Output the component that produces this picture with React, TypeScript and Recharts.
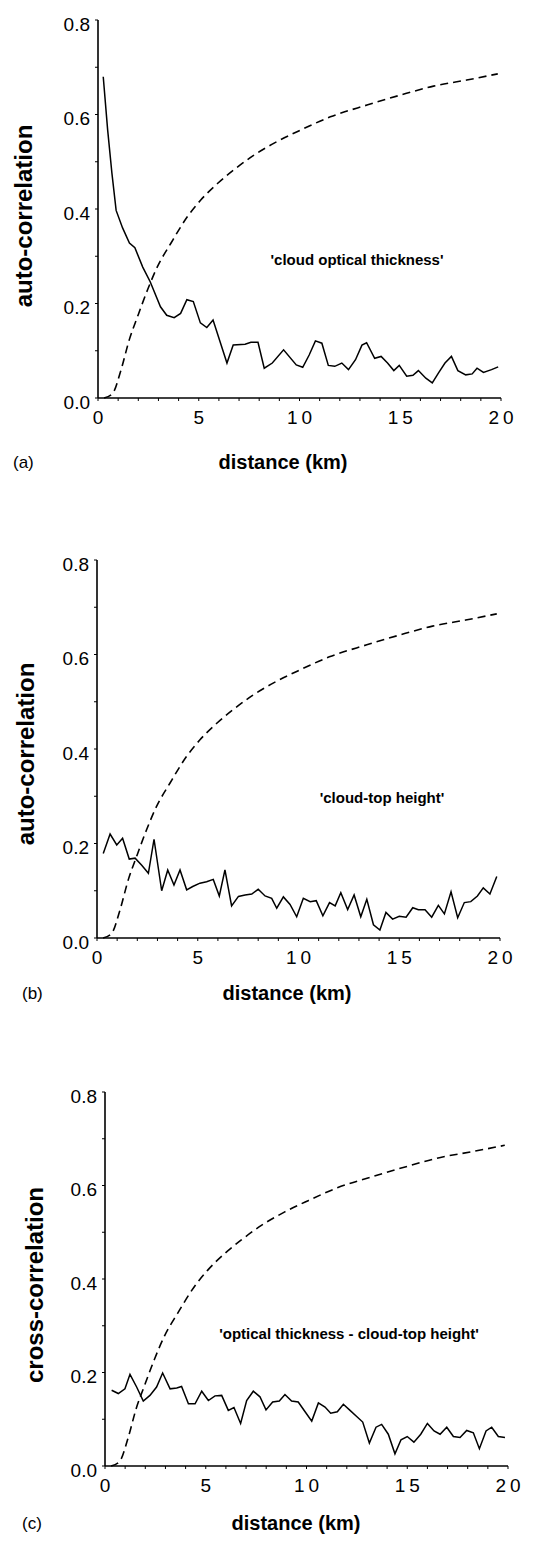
import { LineChart, Line, XAxis, YAxis } from 'recharts';

const FONT = '"Liberation Sans", Arial, Helvetica, sans-serif';

// axis ticks: km every 1 (labels every 5), correlation every 0.1 (labels every 0.2)
const xTicks = [0, 1, 2, 3, 4, 5, 6, 7, 8, 9, 10, 11, 12, 13, 14, 15, 16, 17, 18, 19, 20];
const yTicks = [0, 0.1, 0.2, 0.3, 0.4, 0.5, 0.6, 0.7, 0.8];

// dashed curve (same in the three panels) [distance km, value]
const dashedCurve = [
  [0.3, 0], [0.73, 0.01], [1.14, 0.059], [1.55, 0.123], [1.96, 0.172], [2.46, 0.229],
  [2.95, 0.278], [3.61, 0.327], [4.44, 0.384], [5.1, 0.419], [5.93, 0.454], [6.75, 0.483],
  [7.74, 0.514], [8.9, 0.543], [10.05, 0.567], [11.53, 0.595], [13.35, 0.62], [15.0, 0.641],
  [16.65, 0.66], [18.3, 0.673], [19.84, 0.686],
];

// (a) cloud optical thickness
const opticalAuto = [
  [0.26, 0.68], [0.48, 0.567], [0.69, 0.476], [0.9, 0.397], [1.22, 0.36], [1.56, 0.328],
  [1.83, 0.318], [2.22, 0.277], [2.59, 0.246], [3.1, 0.193], [3.41, 0.175], [3.78, 0.17],
  [4.1, 0.179], [4.41, 0.208], [4.73, 0.204], [5.08, 0.159], [5.4, 0.149], [5.71, 0.165],
  [6.4, 0.074], [6.71, 0.112], [7.3, 0.114], [7.59, 0.118], [7.94, 0.118], [8.25, 0.063],
  [8.65, 0.074], [9.21, 0.102], [9.84, 0.07], [10.16, 0.065], [10.48, 0.091], [10.79, 0.121],
  [11.11, 0.116], [11.43, 0.069], [11.75, 0.067], [12.1, 0.074], [12.43, 0.06], [12.78, 0.081],
  [13.1, 0.112], [13.33, 0.117], [13.73, 0.084], [14.05, 0.088], [14.37, 0.074], [14.68, 0.058],
  [14.95, 0.069], [15.32, 0.046], [15.63, 0.048], [15.9, 0.058], [16.27, 0.042], [16.59, 0.032],
  [16.9, 0.053], [17.22, 0.074], [17.54, 0.088], [17.86, 0.058], [18.25, 0.049], [18.57, 0.051],
  [18.81, 0.063], [19.13, 0.054], [19.53, 0.06], [19.86, 0.066],
];

// (b) cloud-top height
const topHeightAuto = [
  [0.31, 0.179], [0.65, 0.22], [0.98, 0.197], [1.27, 0.211], [1.6, 0.167], [1.89, 0.169],
  [2.22, 0.154], [2.55, 0.137], [2.83, 0.209], [3.21, 0.1], [3.51, 0.144], [3.82, 0.112],
  [4.12, 0.144], [4.45, 0.102], [4.75, 0.109], [5.11, 0.116], [5.44, 0.119], [5.77, 0.124],
  [6.07, 0.089], [6.35, 0.144], [6.68, 0.068], [7.02, 0.088], [7.35, 0.091], [7.68, 0.093],
  [8.0, 0.103], [8.34, 0.089], [8.67, 0.084], [8.92, 0.063], [9.25, 0.087], [9.58, 0.071],
  [9.91, 0.045], [10.24, 0.084], [10.58, 0.077], [10.88, 0.079], [11.21, 0.047], [11.54, 0.075],
  [11.82, 0.068], [12.1, 0.096], [12.44, 0.06], [12.76, 0.091], [13.09, 0.045], [13.39, 0.082],
  [13.72, 0.028], [14.04, 0.017], [14.34, 0.054], [14.67, 0.04], [15.0, 0.046], [15.34, 0.044],
  [15.67, 0.064], [15.95, 0.06], [16.28, 0.06], [16.61, 0.044], [16.94, 0.069], [17.24, 0.051],
  [17.57, 0.098], [17.9, 0.043], [18.23, 0.075], [18.55, 0.077], [18.88, 0.089], [19.17, 0.106],
  [19.5, 0.093], [19.84, 0.13],
];

// (c) optical thickness - cloud-top height
const crossCorr = [
  [0.33, 0.162], [0.66, 0.155], [0.99, 0.165], [1.24, 0.196], [1.57, 0.169], [1.9, 0.139],
  [2.23, 0.151], [2.56, 0.169], [2.86, 0.199], [3.23, 0.165], [3.56, 0.167], [3.8, 0.17],
  [4.14, 0.133], [4.47, 0.133], [4.8, 0.16], [5.13, 0.14], [5.46, 0.15], [5.79, 0.151],
  [6.12, 0.119], [6.4, 0.125], [6.73, 0.091], [7.03, 0.14], [7.36, 0.16], [7.69, 0.148],
  [7.99, 0.12], [8.32, 0.137], [8.65, 0.139], [8.93, 0.153], [9.26, 0.139], [9.59, 0.137],
  [9.93, 0.116], [10.26, 0.096], [10.59, 0.135], [10.92, 0.126], [11.2, 0.113], [11.53, 0.116],
  [11.83, 0.132], [12.16, 0.119], [12.49, 0.106], [12.79, 0.094], [13.12, 0.049], [13.45, 0.083],
  [13.73, 0.089], [14.06, 0.068], [14.39, 0.026], [14.69, 0.056], [15.0, 0.063], [15.33, 0.051],
  [15.67, 0.068], [16.0, 0.091], [16.33, 0.075], [16.63, 0.068], [16.96, 0.083], [17.29, 0.063],
  [17.62, 0.061], [17.95, 0.076], [18.28, 0.071], [18.58, 0.037], [18.91, 0.075], [19.19, 0.083],
  [19.52, 0.063], [19.85, 0.061],
];

const toPoints = (pairs: number[][]) => pairs.map(([x, y]) => ({ x, y }));

function XTick({ x, y, payload }: any) {
  const v = payload.value;
  if (v % 5 !== 0) return null;
  const two = String(v).length > 1;
  return (
    <text x={x + (two ? 2 : 0)} y={y} dy="0.71em" textAnchor="middle" fontSize={19}
      fontFamily={FONT} fill="#000" letterSpacing={two ? 4 : 0}>{v}</text>
  );
}

function YTick({ x, y, payload }: any) {
  const v = payload.value;
  if (Math.round(v * 10) % 2 !== 0) return null;
  return (
    <text x={x} y={y + 4} dy="0.36em" textAnchor="end"
      fontSize={19} fontFamily={FONT} fill="#000">{v.toFixed(1)}</text>
  );
}

function Panel({ top, height, left, right, series, yTitle, yTitlePos, note, notePos, letter, letterPos, xTitlePos }: any) {
  return (
    <>
      <div style={{ position: 'absolute', left: 0, top }}>
        <LineChart width={543} height={height} margin={{ top: 20, right, bottom: 2, left }}>
          <XAxis type="number" dataKey="x" domain={[0, 20]} ticks={xTicks} interval={0}
            height={30} tickSize={3} tickMargin={10} tick={<XTick />}
            axisLine={{ stroke: '#000', strokeWidth: 1.6 }} tickLine={{ stroke: '#000' }} />
          <YAxis type="number" domain={[0, 0.8]} ticks={yTicks} interval={0} width={60}
            tickSize={3} tickMargin={5} tick={<YTick />}
            axisLine={{ stroke: '#000', strokeWidth: 1.6 }} tickLine={{ stroke: '#000' }} />
          <Line data={toPoints(dashedCurve)} dataKey="y" type="monotone" stroke="#000" strokeWidth={1.6}
            strokeDasharray="8 5" dot={false} isAnimationActive={false} />
          <Line data={toPoints(series)} dataKey="y" type="linear" stroke="#000" strokeWidth={1.5}
            dot={false} isAnimationActive={false} />
        </LineChart>
      </div>
      <div style={{ position: 'absolute', left: yTitlePos[0], top: yTitlePos[1], transform: 'translate(-50%, -50%) rotate(-90deg)',
        fontFamily: FONT, fontWeight: 'bold', fontSize: 24, lineHeight: 1, whiteSpace: 'nowrap' }}>{yTitle}</div>
      <div style={{ position: 'absolute', left: notePos[0], top: notePos[1], transform: 'translate(-50%, -50%)',
        fontFamily: FONT, fontWeight: 'bold', fontSize: 15, lineHeight: 1, whiteSpace: 'nowrap' }}>{note}</div>
      <div style={{ position: 'absolute', left: letterPos[0], top: letterPos[1], transform: 'translateY(-50%)',
        fontFamily: FONT, fontSize: 17, lineHeight: 1, whiteSpace: 'nowrap' }}>{letter}</div>
      <div style={{ position: 'absolute', left: xTitlePos[0], top: xTitlePos[1], transform: 'translate(-50%, -50%)',
        fontFamily: FONT, fontWeight: 'bold', fontSize: 20, lineHeight: 1, whiteSpace: 'nowrap' }}>distance (km)</div>
    </>
  );
}

export default function App() {
  return (
    <div style={{ position: 'absolute', left: 0, top: 0, width: 543, height: 1543, background: '#fff', overflow: 'hidden' }}>
      <Panel top={0} height={430} left={38} right={42} series={opticalAuto}
        yTitle="auto-correlation" yTitlePos={[24, 216]}
        note="'cloud optical thickness'" notePos={[357, 259]}
        letter="(a)" letterPos={[13, 462]} xTitlePos={[283, 462]} />
      <Panel top={540} height={430} left={37} right={43} series={topHeightAuto}
        yTitle="auto-correlation" yTitlePos={[26, 754]}
        note="'cloud-top height'" notePos={[382, 797]}
        letter="(b)" letterPos={[22, 993]} xTitlePos={[287, 993]} />
      <Panel top={1072} height={426} left={45} right={35} series={crossCorr}
        yTitle="cross-correlation" yTitlePos={[35, 1285]}
        note="'optical thickness - cloud-top height'" notePos={[349, 1333]}
        letter="(c)" letterPos={[22, 1523]} xTitlePos={[296, 1523]} />
    </div>
  );
}
